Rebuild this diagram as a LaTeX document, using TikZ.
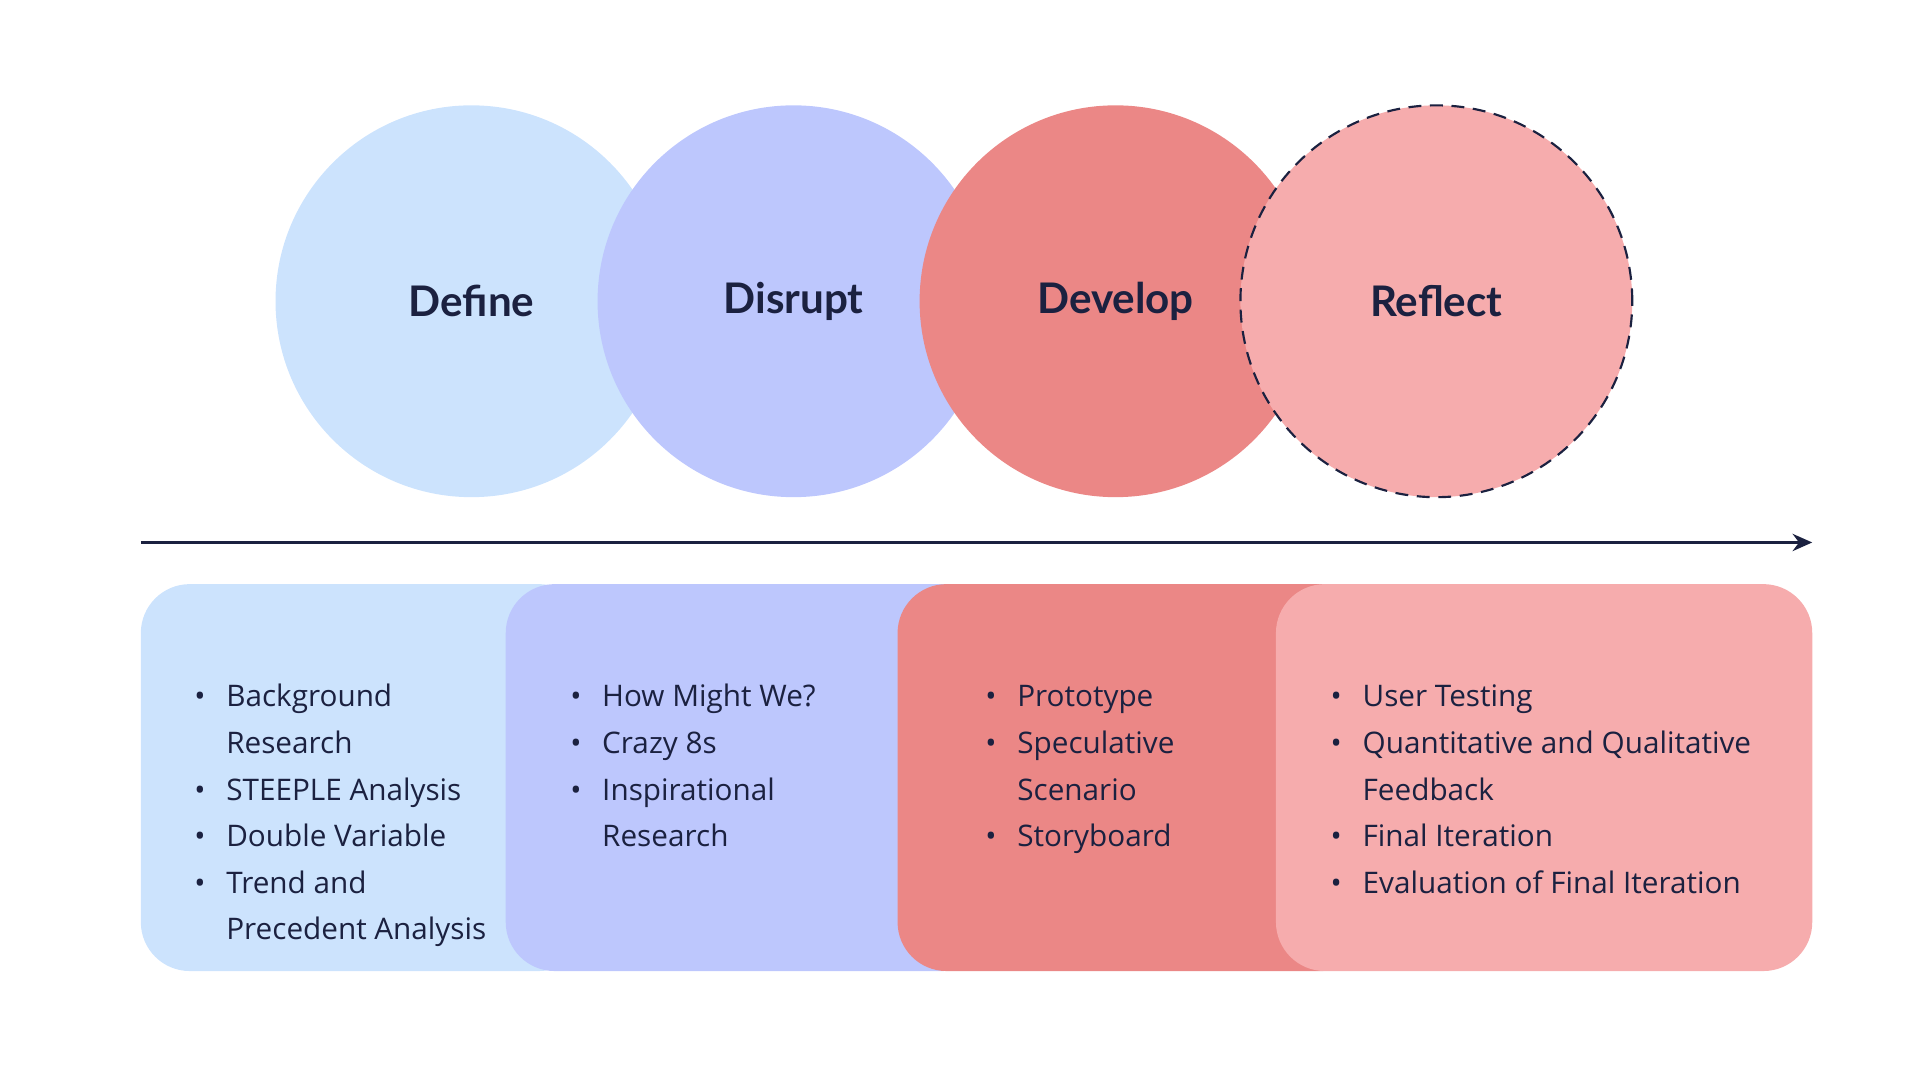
\documentclass[tikz,border=0pt]{standalone}
\usepackage{fontspec}
\setmainfont{Open Sans}
\newfontfamily\titlefont{Lato}
\usetikzlibrary{arrows.meta}
\definecolor{navy}{HTML}{1B2140}
\definecolor{cDefine}{HTML}{CCE3FD}
\definecolor{cDisrupt}{HTML}{BDC7FD}
\definecolor{cDevelop}{HTML}{EB8786}
\definecolor{cReflect}{HTML}{F6ACAD}
\newcommand{\bul}{\textbullet}
\begin{document}
\begin{tikzpicture}[
	phase/.style={circle, minimum size=3.2cm, inner sep=0pt, text=navy,
		font=\titlefont\bfseries\fontsize{9.8}{11}\selectfont},
	panel/.style={rounded corners=0.4cm, draw=none},
	items/.style={anchor=north west, inner sep=0pt, text=navy,
		font=\fontsize{6.9}{8.8}\selectfont}
	]
	\useasboundingbox (0,0) rectangle (15.68,-8.82);
	
	%circles
	\node[phase, fill=cDefine]  (define)  at (3.85,-2.46)  {Define};
	\node[phase, fill=cDisrupt] (disrupt) at (6.48,-2.46)  {Disrupt};
	\node[phase, fill=cDevelop] (develop) at (9.11,-2.46)  {Develop};
	\node[phase, fill=cReflect, draw=navy, densely dashed, line width=0.5pt] (reflect) at (11.73,-2.46) {Reflect};
	
	%timeline
	\coordinate (tstart) at (1.15,-4.43);
	\coordinate (tend)   at (14.80,-4.43);
	\draw[navy, line width=0.8pt, -{Stealth[length=1.6mm,width=1.4mm]}] (tstart) -- (tend);
	
	%panels
	\fill[panel, fill=cDefine]  (1.15,-4.77) rectangle (4.80,-7.93);
	\fill[panel, fill=cDisrupt] (4.13,-4.77) rectangle (8.10,-7.93);
	\fill[panel, fill=cDevelop] (7.33,-4.77) rectangle (11.20,-7.93);
	\fill[panel, fill=cReflect] (10.42,-4.77) rectangle (14.80,-7.93);
	
	%lists
	\renewcommand{\arraystretch}{1.23}
	\node[items] (defineitems) at (1.58,-5.50) {\begin{tabular}{@{}l@{\hspace{0.17cm}}l@{}}
		\bul & Background\\ & Research\\ \bul & STEEPLE Analysis\\ \bul & Double Variable\\
		\bul & Trend and\\ & Precedent Analysis\end{tabular}};
	\node[items] (disruptitems) at (4.65,-5.50) {\begin{tabular}{@{}l@{\hspace{0.17cm}}l@{}}
		\bul & How Might We?\\ \bul & Crazy 8s\\ \bul & Inspirational\\ & Research\end{tabular}};
	\node[items] (developitems) at (8.04,-5.50) {\begin{tabular}{@{}l@{\hspace{0.17cm}}l@{}}
		\bul & Prototype\\ \bul & Speculative\\ & Scenario\\ \bul & Storyboard\end{tabular}};
	\node[items] (reflectitems) at (10.86,-5.50) {\begin{tabular}{@{}l@{\hspace{0.17cm}}l@{}}
		\bul & User Testing\\ \bul & Quantitative and Qualitative\\ & Feedback\\
		\bul & Final Iteration\\ \bul & Evaluation of Final Iteration\end{tabular}};
\end{tikzpicture}
\end{document}
